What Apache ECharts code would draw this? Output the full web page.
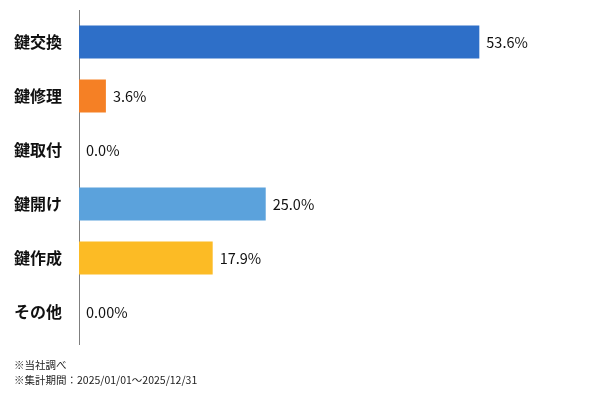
<!DOCTYPE html>
<html>
<head>
<meta charset="utf-8">
<script src="https://cdn.jsdelivr.net/npm/echarts@6/dist/echarts.min.js"></script>
<style>
  html, body { margin: 0; padding: 0; background: #fff; }
  #container { width: 600px; height: 400px; }
</style>
</head>
<body>
<div id="container"></div>
<script>
let categories = ['鍵交換', '鍵修理', '鍵取付', '鍵開け', '鍵作成', 'その他'];
let values = [53.6, 3.6, 0.0, 25.0, 17.9, 0.0];
let valueLabels = ['53.6%', '3.6%', '0.0%', '25.0%', '17.9%', '0.00%'];
let colors = ['#2e6fc8', '#f58025', '#888888', '#5ba2dc', '#fcbb25', '#888888'];

let dom = document.getElementById('container');
let myChart = echarts.init(dom);

let option = {
    animation: false,
    textStyle: { fontFamily: '"Noto Sans CJK JP", "Noto Sans", sans-serif' },
    grid: { left: 79, right: 43, top: 15, bottom: 61 },
    xAxis: {
        type: 'value',
        min: 0,
        max: 64,
        show: false
    },
    yAxis: {
        type: 'category',
        inverse: true,
        data: categories,
        axisLine: { show: false },
        axisTick: { show: false },
        axisLabel: {
            margin: 17,
            fontSize: 16,
            fontWeight: 'bold',
            color: '#111'
        }
    },
    series: [{
        type: 'bar',
        barWidth: 33,
        data: values.map(function (v, i) {
            return { value: v, itemStyle: { color: colors[i] } };
        }),
        label: {
            show: true,
            position: 'right',
            distance: 7,
            fontSize: 14.5,
            color: '#111',
            formatter: function (p) { return valueLabels[p.dataIndex]; }
        }
    }],
    graphic: [
        // 縦軸の線（グリッドより少し長い）
        { type: 'line', shape: { x1: 79.5, y1: 10, x2: 79.5, y2: 345 },
          style: { stroke: '#7f7f7f', lineWidth: 1 } },
        { type: 'text', left: 14, top: 360,
          style: { text: '※当社調べ', fontSize: 10.5, fill: '#222',
                   fontFamily: '"Noto Sans CJK JP", sans-serif' } },
        { type: 'text', left: 14, top: 375,
          style: { text: '※集計期間：2025/01/01～2025/12/31', fontSize: 10.5, fill: '#222',
                   fontFamily: '"Noto Sans CJK JP", sans-serif' } }
    ]
};
if (option && typeof option === 'object') {
    myChart.setOption(option, true);
}
</script>
</body>
</html>
